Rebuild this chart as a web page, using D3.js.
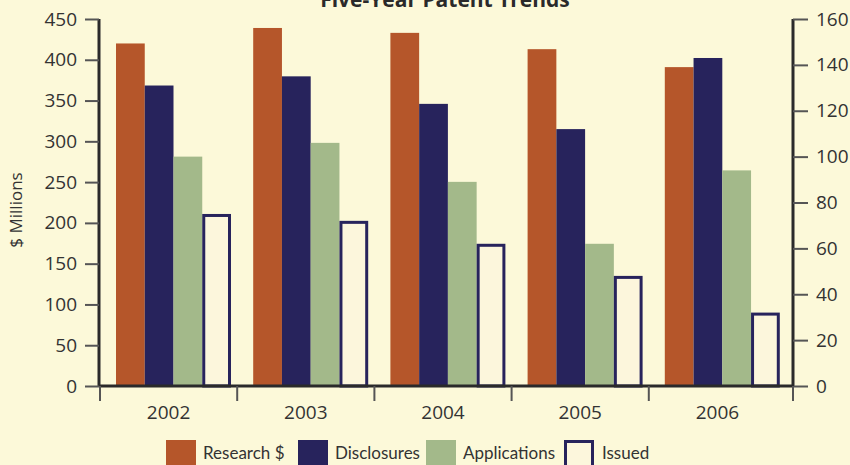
<!DOCTYPE html>
<html>
<head>
<meta charset="utf-8">
<script src="https://cdn.jsdelivr.net/npm/d3@7"></script>
<style>
  body { margin: 0; background: #fcf9d9; }
  svg { display: block; font-family: "Open Sans", sans-serif; }
</style>
</head>
<body>
<svg id="chart" width="850" height="465"></svg>
<script>
var years = ["2002", "2003", "2004", "2005", "2006"];
var seriesNames = ["Research $", "Disclosures", "Applications", "Issued"];
var research = [420, 439, 433, 413, 391];      // $ Millions, left axis
var disclosures = [131, 135, 123, 112, 143];   // right axis
var applications = [100, 106, 89, 62, 94];
var issued = [75, 72, 62, 48, 32];
var leftTicks = [0, 50, 100, 150, 200, 250, 300, 350, 400, 450];
var rightTicks = [0, 20, 40, 60, 80, 100, 120, 140, 160];

var colors = ["#b5562a", "#27235c", "#a3b98a", "#fcf6dc"];
var seriesValues = [research, disclosures, applications, issued];

var svg = d3.select("#chart");
var ink = "#333";

var x = d3.scaleBand().domain(years).range([100, 786]);
var xs = d3.scaleBand().domain(seriesNames).range([16, 131]);
var yLeft = d3.scaleLinear().domain([0, 450]).range([386, 19]);
var yRight = d3.scaleLinear().domain([0, 160]).range([386, 19]);

// title, partly cut off at the top like the original
svg.append("text")
    .attr("x", 445).attr("y", 7)
    .attr("text-anchor", "middle")
    .attr("font-size", 21).attr("font-weight", "bold")
    .attr("fill", "#2a2a2a")
    .text("Five-Year Patent Trends");

// bars
seriesNames.forEach(function(name, i) {
    var scale = i === 0 ? yLeft : yRight;
    var g = svg.append("g");
    var rows = years.map(function(yr, j) { return {year: yr, value: seriesValues[i][j]}; });
    if (i < 3) {
        g.selectAll("rect").data(rows).enter().append("rect")
            .attr("x", function(d) { return x(d.year) + xs(name); })
            .attr("width", xs.bandwidth())
            .attr("y", function(d) { return scale(d.value); })
            .attr("height", function(d) { return scale(0) - scale(d.value); })
            .attr("fill", colors[i]);
    } else {
        g.selectAll("rect").data(rows).enter().append("rect")
            .attr("x", function(d) { return x(d.year) + xs(name) + 1.5; })
            .attr("width", xs.bandwidth() - 3)
            .attr("y", function(d) { return scale(d.value) + 1.5; })
            .attr("height", function(d) { return scale(0) - scale(d.value) - 1.5; })
            .attr("fill", colors[i])
            .attr("stroke", "#27235c")
            .attr("stroke-width", 3);
    }
});

// left axis
var leftAxis = svg.append("g")
    .attr("transform", "translate(99,0)")
    .call(d3.axisLeft(yLeft).tickValues(leftTicks).tickSize(14).tickPadding(8));
// right axis
var rightAxis = svg.append("g")
    .attr("transform", "translate(793,0)")
    .call(d3.axisRight(yRight).tickValues(rightTicks).tickSize(15).tickPadding(8));

[leftAxis, rightAxis].forEach(function(ax) {
    ax.select(".domain").attr("stroke", "#2a2a2a").attr("stroke-width", 3).attr("d", function() {
        return "M0," + yLeft(450) + "V" + yLeft(0);
    });
    ax.selectAll(".tick line").attr("stroke", "#555").attr("stroke-width", 2);
    ax.selectAll(".tick text").attr("font-size", 19).attr("fill", ink)
        .attr("font-family", "Open Sans, sans-serif");
});

// x axis baseline with ticks at band edges
var xAxis = svg.append("g").attr("transform", "translate(0,386)");
xAxis.append("line")
    .attr("x1", 99).attr("x2", 794).attr("y1", 0).attr("y2", 0)
    .attr("stroke", "#2a2a2a").attr("stroke-width", 3);
var edges = years.slice(1).map(function(yr) { return x(yr); });
edges = [100].concat(edges).concat([793]);
xAxis.selectAll(".xtick").data(edges).enter().append("line")
    .attr("x1", function(d) { return d; }).attr("x2", function(d) { return d; })
    .attr("y1", 0).attr("y2", 15)
    .attr("stroke", "#555").attr("stroke-width", 2);
xAxis.selectAll(".xlabel").data(years).enter().append("text")
    .attr("x", function(d) { return x(d) + x.bandwidth() / 2; })
    .attr("y", 33)
    .attr("text-anchor", "middle")
    .attr("font-size", 19).attr("fill", ink)
    .text(function(d) { return d; });

// y title
svg.append("text")
    .attr("transform", "translate(22,210) rotate(-90)")
    .attr("text-anchor", "middle")
    .attr("font-size", 17).attr("fill", ink)
    .text("$ Millions");

// legend
var legendX = [166, 298, 426, 564];
var legend = svg.append("g");
seriesNames.forEach(function(name, i) {
    if (i < 3) {
        legend.append("rect").attr("x", legendX[i]).attr("y", 440).attr("width", 30).attr("height", 30)
            .attr("fill", colors[i]);
    } else {
        legend.append("rect").attr("x", legendX[i] + 1.5).attr("y", 441.5).attr("width", 27).attr("height", 30)
            .attr("fill", colors[i]).attr("stroke", "#27235c").attr("stroke-width", 3);
    }
    legend.append("text")
        .attr("x", legendX[i] + (i === 3 ? 38 : 37)).attr("y", 459)
        .attr("font-family", "Lato, sans-serif")
        .attr("font-size", 17).attr("fill", ink)
        .text(name);
});
</script>
</body>
</html>
